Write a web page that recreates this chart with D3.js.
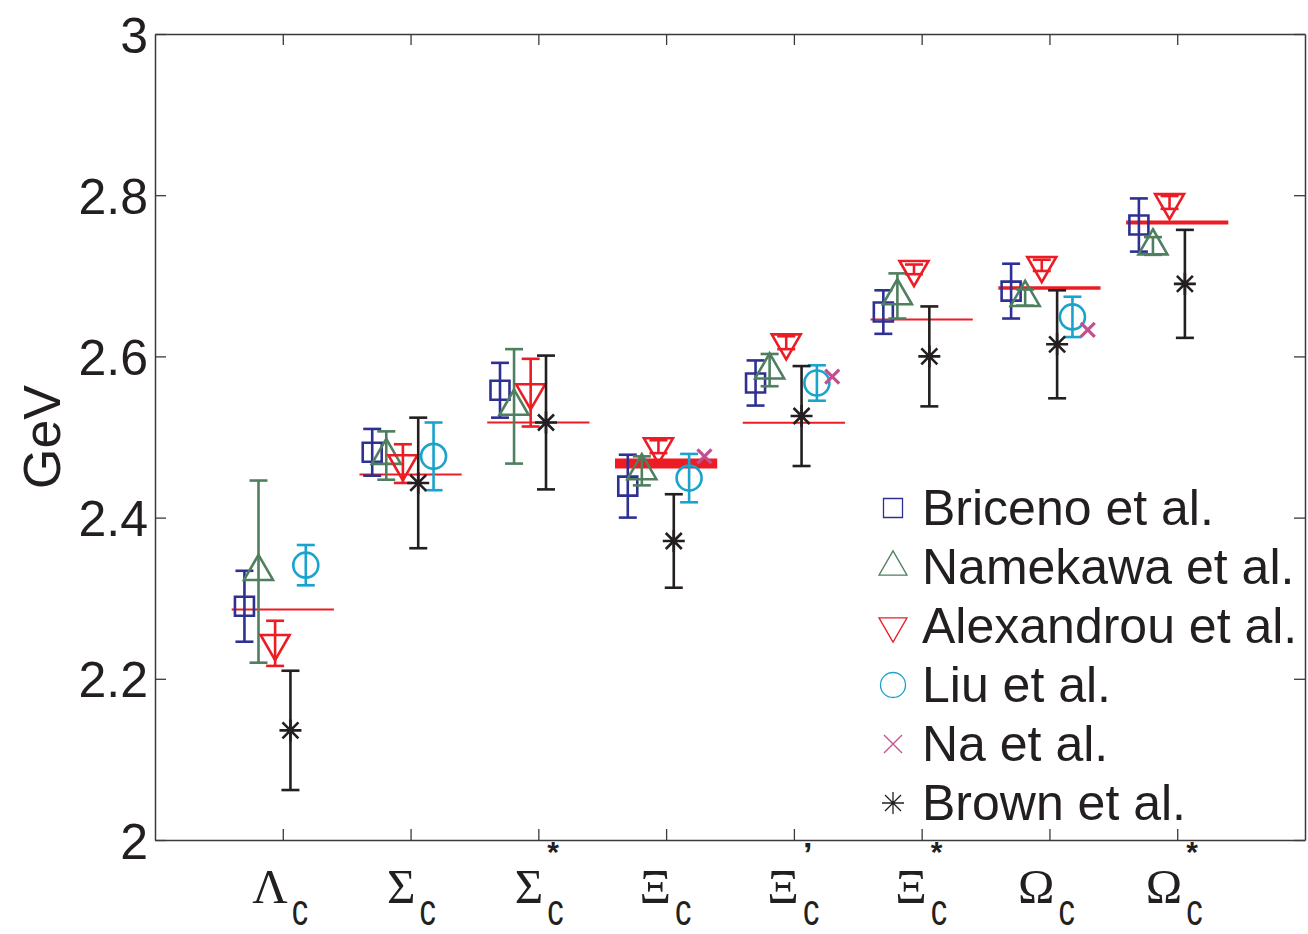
<!DOCTYPE html>
<html>
<head>
<meta charset="utf-8">
<script src="https://cdn.jsdelivr.net/npm/d3@7"></script>
<style>
  html, body { margin: 0; padding: 0; background: #fff; }
  svg { display: block; }
</style>
</head>
<body>
<svg id="chart" width="1308" height="934"></svg>
<script>
// Charmed baryon masses (GeV): lattice results vs. experiment
const baryonSymbols = ["Λ", "Σ", "Σ", "Ξ", "Ξ", "Ξ", "Ω", "Ω"];
const baryonMarks   = ["", "", "*", "", "’", "*", "", "*"];
const baryonSub     = "c";
const massTicks     = [2, 2.2, 2.4, 2.6, 2.8, 3];

const seriesNames = ["Briceno et al.", "Namekawa et al.", "Alexandrou et al.", "Liu et al.", "Na et al.", "Brown et al."];

const bricenoMass    = [2.290, 2.481, 2.558, 2.439, 2.567, 2.655, 2.681, 2.763];
const bricenoErr     = [0.044, 0.029, 0.034, 0.039, 0.028, 0.027, 0.034, 0.033];
const namekawaMass   = [2.333, 2.477, 2.538, 2.458, 2.583, 2.675, 2.673, 2.737];
const namekawaErr    = [0.113, 0.030, 0.071, 0.018, 0.020, 0.028, 0.010, 0.011];
const alexandrouMass = [2.244, 2.467, 2.555, 2.488, 2.617, 2.708, 2.713, 2.791];
const alexandrouErr  = [0.028, 0.024, 0.042, 0.008, 0.008, 0.006, 0.007, 0.008];
const liuMass        = [2.341, 2.476, null, 2.449, 2.567, null, 2.649, null];
const liuErr         = [0.025, 0.042, null, 0.030, 0.022, null, 0.025, null];
const naMass         = [null, null, null, 2.476, 2.575, null, 2.633, null];
const brownMass      = [2.136, 2.443, 2.518, 2.371, 2.526, 2.600, 2.615, 2.690];
const brownErr       = [0.074, 0.081, 0.083, 0.058, 0.062, 0.062, 0.067, 0.067];
const experimentMass = [2.286, 2.4535, 2.518, 2.467, 2.5177, 2.6458, 2.685, 2.766];

// ---- layout & styling ----
const svg = d3.select("#chart");
const plot = { left: 155, right: 1305, top: 34, bottom: 840 };
const ink = "#231F20";
const sans = "'Liberation Sans', Arial, Helvetica, sans-serif";
const serif = "'Liberation Serif', 'Times New Roman', serif";

const x = d3.scaleLinear().domain([0, 9]).range([plot.left, plot.right]);
const y = d3.scaleLinear().domain([2, 3]).range([plot.bottom, plot.top]);

const styles = [
  { color: "#2E3192", shape: "square",   dx: -0.30 },
  { color: "#4E7F5E", shape: "triUp",    dx: -0.19 },
  { color: "#ED1C24", shape: "triDown",  dx: -0.06 },
  { color: "#1AA3CC", shape: "circle",   dx:  0.18 },
  { color: "#C2508E", shape: "cross",    dx:  0.30 },
  { color: "#231F20", shape: "star",     dx:  0.06 }
];

const series = [
  { mass: bricenoMass,    err: bricenoErr },
  { mass: namekawaMass,   err: namekawaErr },
  { mass: alexandrouMass, err: alexandrouErr },
  { mass: liuMass,        err: liuErr },
  { mass: naMass,         err: null },
  { mass: brownMass,      err: brownErr }
].map((s, k) => ({ ...s, name: seriesNames[k], ...styles[k] }));

// marker path builders, centred on (0,0)
function markerPath(shape, big) {
  const p = d3.path();
  if (shape === "square") {
    const h = 9.5;
    p.rect(-h, -h, 2 * h, 2 * h);
  } else if (shape === "triUp" || shape === "triDown") {
    const w = big ? 29 : 28;
    const th = w * Math.sqrt(3) / 2;
    const s = shape === "triUp" ? 1 : -1;
    p.moveTo(0, -s * 2 * th / 3);
    p.lineTo(w / 2, s * th / 3);
    p.lineTo(-w / 2, s * th / 3);
    p.closePath();
  } else if (shape === "circle") {
    const r = 12.5;
    p.moveTo(r, 0);
    p.arc(0, 0, r, 0, 2 * Math.PI);
  } else if (shape === "cross") {
    const a = big ? 7 : 9;
    p.moveTo(-a, -a); p.lineTo(a, a);
    p.moveTo(-a, a); p.lineTo(a, -a);
  } else if (shape === "star") {
    const a = 11, b = 8;
    p.moveTo(-a, 0); p.lineTo(a, 0);
    p.moveTo(0, -a); p.lineTo(0, a);
    p.moveTo(-b, -b); p.lineTo(b, b);
    p.moveTo(-b, b); p.lineTo(b, -b);
  }
  return p.toString();
}

// ---- axes ----
const axisStroke = "#3a3a3a";
function styleAxis(g) {
  g.selectAll("path.domain").attr("stroke", axisStroke).attr("stroke-width", 1.5);
  g.selectAll(".tick line").attr("stroke", axisStroke).attr("stroke-width", 1.3);
}

const catTicks = d3.range(1, 9);

svg.append("g")
  .attr("transform", `translate(${plot.left},0)`)
  .call(d3.axisLeft(y).tickValues(massTicks).tickSize(-11).tickSizeOuter(0).tickPadding(7)
    .tickFormat(d => String(d)))
  .call(styleAxis)
  .call(g => g.selectAll(".tick text")
    .attr("font-family", sans).attr("font-size", 50).attr("fill", ink).attr("dy", "0.36em"));

svg.append("g")
  .attr("transform", `translate(${plot.right},0)`)
  .call(d3.axisRight(y).tickValues(massTicks).tickSize(-11).tickSizeOuter(0).tickFormat(""))
  .call(styleAxis);

svg.append("g")
  .attr("transform", `translate(0,${plot.bottom})`)
  .call(d3.axisBottom(x).tickValues(catTicks).tickSize(-11).tickSizeOuter(0).tickFormat(""))
  .call(styleAxis);

svg.append("g")
  .attr("transform", `translate(0,${plot.top})`)
  .call(d3.axisTop(x).tickValues(catTicks).tickSize(-11).tickSizeOuter(0).tickFormat(""))
  .call(styleAxis);

// y label
svg.append("text")
  .attr("transform", `translate(60,437) rotate(-90)`)
  .attr("text-anchor", "middle")
  .attr("font-family", sans).attr("font-size", 52).attr("fill", ink)
  .text("GeV");

// category labels: Greek symbol, superscript mark, subscript c
const catG = svg.append("g").selectAll("g")
  .data(baryonSymbols.map((s, i) => ({ s, m: baryonMarks[i], i })))
  .join("g")
  .attr("transform", d => `translate(${x(d.i + 1)},0)`);

catG.append("text")
  .attr("x", 5).attr("y", 903)
  .attr("text-anchor", "end")
  .attr("font-family", serif).attr("font-size", 49).attr("fill", ink)
  .text(d => d.s);

catG.append("text")
  .attr("transform", "translate(9,925) scale(0.8,1.08)")
  .attr("font-family", sans).attr("font-size", 41).attr("fill", ink)
  .text(baryonSub);

catG.filter(d => d.m).append("text")
  .attr("x", d => d.m === "*" ? 9 : 9).attr("y", d => d.m === "*" ? 862 : 866)
  .attr("font-family", sans).attr("font-size", d => d.m === "*" ? 30 : 34)
  .attr("font-weight", "bold").attr("fill", ink)
  .text(d => d.m);

// ---- experimental values (red bars) ----
const expWidth = [2, 2, 2, 10, 2, 2, 3.5, 4];
svg.append("g").selectAll("line")
  .data(experimentMass.map((m, i) => ({ m, i })))
  .join("line")
  .attr("x1", d => x(d.i + 1 - 0.4))
  .attr("x2", d => x(d.i + 1 + 0.4))
  .attr("y1", d => y(d.m)).attr("y2", d => y(d.m))
  .attr("stroke", "#ED1C24")
  .attr("stroke-width", d => expWidth[d.i]);

// ---- lattice results ----
const capHalf = 9;
series.forEach(s => {
  const pts = s.mass.map((m, i) => ({ m, e: s.err ? s.err[i] : null, i }))
    .filter(d => d.m != null);
  const g = svg.append("g")
    .attr("stroke", s.color).attr("fill", "none")
    .attr("stroke-width", 2.6);

  const eb = g.selectAll("g.eb").data(pts.filter(d => d.e != null)).join("g")
    .attr("transform", d => `translate(${x(d.i + 1 + s.dx)},0)`);
  eb.append("line").attr("x1", 0).attr("x2", 0)
    .attr("y1", d => y(d.m + d.e)).attr("y2", d => y(d.m - d.e));
  eb.append("line").attr("x1", -capHalf).attr("x2", capHalf)
    .attr("y1", d => y(d.m + d.e)).attr("y2", d => y(d.m + d.e));
  eb.append("line").attr("x1", -capHalf).attr("x2", capHalf)
    .attr("y1", d => y(d.m - d.e)).attr("y2", d => y(d.m - d.e));

  g.selectAll("path.mk").data(pts).join("path")
    .attr("class", "mk")
    .attr("transform", d => `translate(${x(d.i + 1 + s.dx)},${y(d.m)})`)
    .attr("d", markerPath(s.shape, true))
    .attr("stroke-width", s.shape === "cross" ? 3.2 : 2.6);
});

// ---- legend ----
const legend = svg.append("g").selectAll("g")
  .data(series)
  .join("g")
  .attr("transform", (d, k) => `translate(893,${525 + k * 59})`);

legend.append("path")
  .attr("transform", "translate(0,-17)")
  .attr("d", d => markerPath(d.shape, false))
  .attr("fill", "none")
  .attr("stroke", d => d.color)
  .attr("stroke-width", 1.3);

legend.append("text")
  .attr("x", 29).attr("y", 0)
  .attr("font-family", sans).attr("font-size", 50).attr("fill", ink)
  .text(d => d.name);
</script>
</body>
</html>
